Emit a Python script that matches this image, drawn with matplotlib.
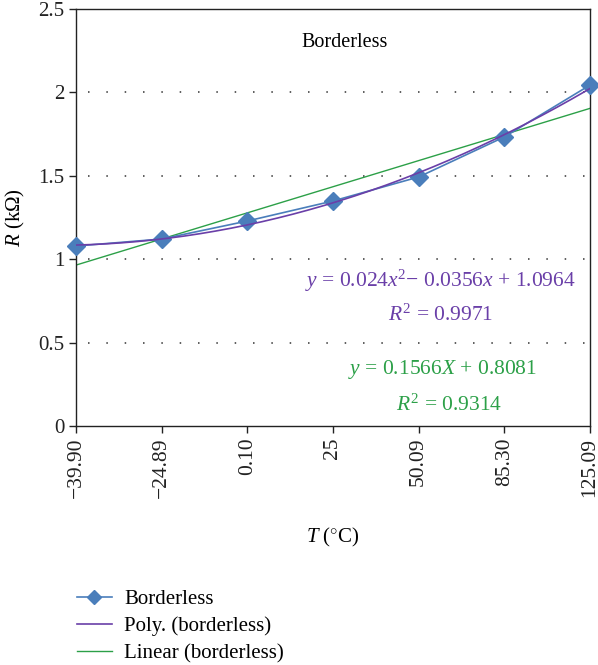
import numpy as np
import matplotlib
matplotlib.use("Agg")
import matplotlib.pyplot as plt

categories = ["\u221239.90", "\u221224.89", "0.10", "25", "50.09", "85.30", "125.09"]
resistance = [1.079, 1.121, 1.229, 1.349, 1.493, 1.733, 2.044]
poly_coef = [0.024, -0.0356, 1.0964]
lin_coef = [0.1566, 0.8081]

plt.rcParams['font.family'] = ['Liberation Serif', 'DejaVu Serif']
plt.rcParams['mathtext.fontset'] = 'custom'
plt.rcParams['mathtext.rm'] = 'Liberation Serif'
plt.rcParams['mathtext.it'] = 'Liberation Serif:italic'

fig = plt.figure(figsize=(5.98, 6.65), dpi=100)
ax = fig.add_axes([76/598, 1-426/665, 514/598, 417/665])

xpos = np.arange(1, len(categories) + 1)
xd = np.linspace(1, len(categories), 200)

blue = "#4a7ebb"
purple = "#6a3fa8"
green = "#2ca048"

l1, = ax.plot(xpos, resistance, color=blue, lw=1.2, marker="D", ms=9,
              markerfacecolor=blue, markeredgecolor=blue, label="Borderless",
              zorder=3, clip_on=False)
l2, = ax.plot(xd, np.polyval(poly_coef, xd), color=purple, lw=1.2,
              label="Poly. (borderless)", zorder=4)
l3, = ax.plot(xd, np.polyval(lin_coef, xd), color=green, lw=1.0,
              label="Linear (borderless)", zorder=2)

ax.set_xlim(1, len(categories))
ax.set_ylim(0, 2.5)
ax.set_xticks(xpos)
ax.set_xticklabels(categories, rotation=90, fontsize=15.5)
ax.set_yticks([0, 0.5, 1, 1.5, 2, 2.5])
ax.set_yticklabels(["0", "0.5", "1", "1.5", "2", "2.5"], fontsize=15)
ax.tick_params(direction="out", length=5, width=1, colors="#222222")
for y in [0.5, 1, 1.5, 2]:
    ax.plot([0.024, 1], [y, y], transform=ax.get_yaxis_transform(), color="#333333",
            lw=1.1, ls=(0, (1, 11)), zorder=1)
for s in ax.spines.values():
    s.set_color("#222222")
    s.set_linewidth(1.0)

ax.set_ylabel("$R$ (k\u03a9)", fontsize=15, labelpad=8)
ax.set_xlabel("$T$ ($^{\\circ}$C)", fontsize=15, labelpad=20)

ax.text(0.523, 0.92, "Borderless", transform=ax.transAxes, ha="center", va="center", fontsize=14.5)
ax.text(0.709, 0.347, "$y$ = 0.024$x^2$\u2212 0.0356$x$ + 1.0964", transform=ax.transAxes,
        ha="center", va="center", fontsize=15.5, color=purple)
ax.text(0.709, 0.265, "$R^2$ = 0.9971", transform=ax.transAxes,
        ha="center", va="center", fontsize=15.5, color=purple)
ax.text(0.713, 0.135, "$y$ = 0.1566$X$ + 0.8081", transform=ax.transAxes,
        ha="center", va="center", fontsize=15.5, color=green)
ax.text(0.726, 0.049, "$R^2$ = 0.9314", transform=ax.transAxes,
        ha="center", va="center", fontsize=15.5, color=green)

fig.legend(handles=[l1, l2, l3], loc="upper left", bbox_to_anchor=(0.128, 0.113),
           frameon=False, fontsize=15, handlelength=1.7, handletextpad=0.6,
           labelspacing=0.35, markerscale=0.75, borderaxespad=0, borderpad=0)

fig.savefig("out.png", dpi=100)
